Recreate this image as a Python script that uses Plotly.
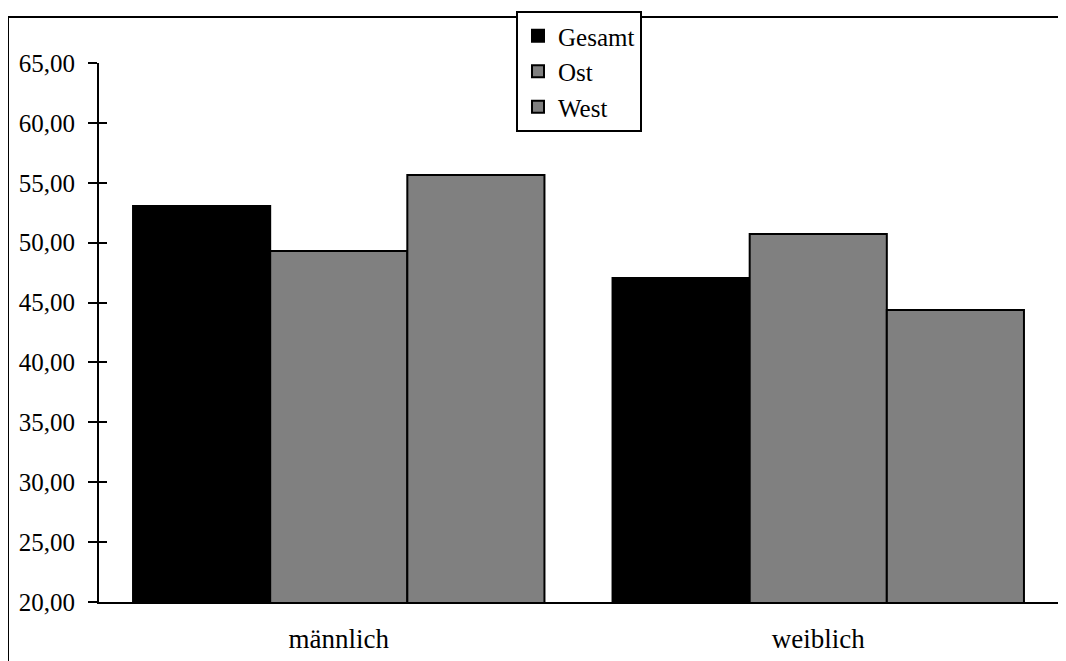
import plotly.graph_objects as go

categories = ["männlich", "weiblich"]
series_names = ["Gesamt", "Ost", "West"]
gesamt = [53.06, 47.05]
ost = [49.30, 50.72]
west = [55.64, 44.37]
y_ticks = [20, 25, 30, 35, 40, 45, 50, 55, 60, 65]
y_tick_labels = ["20,00", "25,00", "30,00", "35,00", "40,00", "45,00", "50,00", "55,00", "60,00", "65,00"]

colors = ["#000000", "#808080", "#808080"]
FONT = "Liberation Serif, Times New Roman, serif"

fig = go.Figure()
for name, vals, col in zip(series_names, [gesamt, ost, west], colors):
    fig.add_trace(go.Bar(
        x=categories, y=vals, name=name,
        marker=dict(color=col, line=dict(color="black", width=2)),
    ))

# invisible helper trace for the inside-tick overlay axis
fig.add_trace(go.Scatter(x=categories, y=[None, None], yaxis="y2",
                         showlegend=False, hoverinfo="skip", mode="lines"))

W, H = 1058, 653
L, R, T, B = 91, 8, 55, 59
pw = W - L - R
ph = H - T - B

fig.update_layout(
    width=W, height=H,
    margin=dict(l=L, r=R, t=T, b=B, autoexpand=False),
    paper_bgcolor="white", plot_bgcolor="white",
    font=dict(family=FONT, size=25, color="black"),
    barmode="group", bargap=0.142, bargroupgap=0,
    xaxis=dict(
        showline=True, linecolor="black", linewidth=2,
        ticks="", showgrid=False, tickfont=dict(size=27),
        ticklabelstandoff=12, automargin=False,
    ),
    yaxis=dict(
        range=[20, 65], tickvals=y_ticks, ticktext=y_tick_labels,
        showline=True, linecolor="black", linewidth=2,
        ticks="outside", ticklen=9, tickwidth=2, tickcolor="black",
        showgrid=False, zeroline=False, tickfont=dict(size=25),
        ticklabelstandoff=8, automargin=False,
    ),
    yaxis2=dict(
        range=[20, 65], tickvals=y_ticks, overlaying="y", side="left",
        showline=False, ticks="inside", ticklen=8, tickwidth=2, tickcolor="black",
        showticklabels=False, showgrid=False, zeroline=False,
    ),
    legend=dict(
        x=(508 - L) / pw, y=(594 - 3) / ph, xanchor="left", yanchor="top",
        bgcolor="white", bordercolor="black", borderwidth=2,
        font=dict(family=FONT, size=25), tracegroupgap=0,
    ),
    shapes=[dict(type="rect", xref="paper", yref="paper",
                 x0=(0 - L) / pw, x1=1.05, y0=-0.3, y1=(594 - 9) / ph,
                 line=dict(color="black", width=2), layer="below")],
)

fig.write_html("out.html")
